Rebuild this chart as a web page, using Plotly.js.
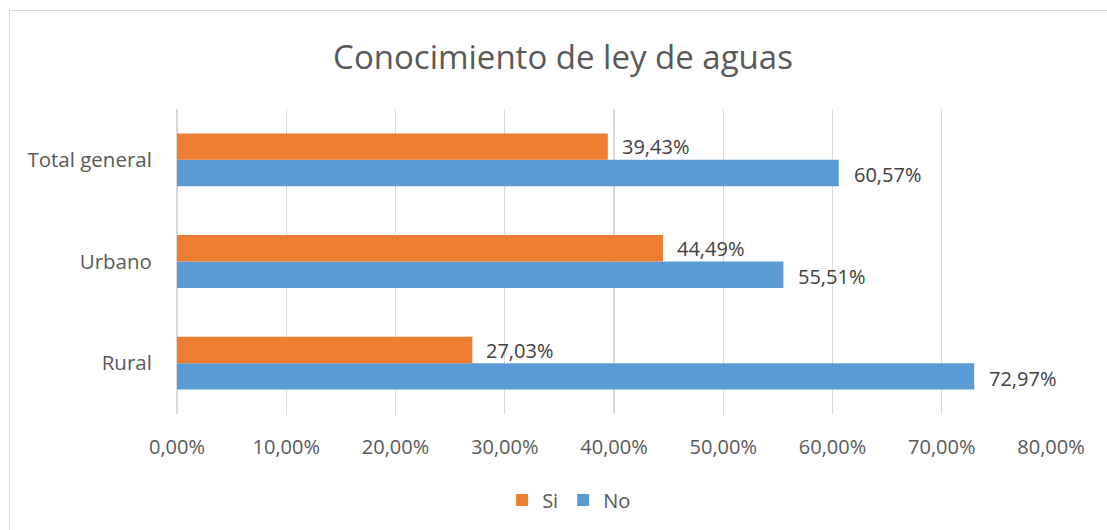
<!DOCTYPE html>
<html>
<head>
<meta charset="utf-8">
<script src="https://cdn.plot.ly/plotly-3.0.1.min.js"></script>
<style>
  html, body { margin: 0; padding: 0; background: #ffffff; }
  #wrap { position: relative; width: 1107px; height: 530px; overflow: hidden; }
  #chart { position: absolute; left: 0; top: 0; width: 1107px; height: 530px; }
  #frame { position: absolute; left: 9px; top: 10px; width: 1120px; height: 540px;
           border: 1.5px solid #d9d9d9; box-sizing: border-box; pointer-events: none; }
</style>
</head>
<body>
<div id="wrap">
  <div id="chart"></div>
  <div id="frame"></div>
</div>
<script>
const categories = ['Rural', 'Urbano', 'Total general'];
const siValues = [27.03, 44.49, 39.43];
const noValues = [72.97, 55.51, 60.57];
const seriesNames = ['Si', 'No'];
const chartTitle = 'Conocimiento de ley de aguas';

const FONT = '"Open Sans", sans-serif';
const orange = '#ED7D31';
const blue = '#5B9BD5';

function fmt(v) { return v.toFixed(2).replace('.', ',') + '%'; }

const traces = [
  { type: 'bar', orientation: 'h', name: seriesNames[1], y: categories, x: noValues,
    marker: { color: blue }, legendrank: 2, hoverinfo: 'x+y' },
  { type: 'bar', orientation: 'h', name: seriesNames[0], y: categories, x: siValues,
    marker: { color: orange }, legendrank: 1, hoverinfo: 'x+y' }
];

const annotations = [];
categories.forEach((c, i) => {
  annotations.push({ x: siValues[i], y: c, xref: 'x', yref: 'y', text: fmt(siValues[i]),
    showarrow: false, xanchor: 'left', yanchor: 'middle', xshift: 12, yshift: 13,
    font: { family: FONT, size: 20, color: '#404040' } });
  annotations.push({ x: noValues[i], y: c, xref: 'x', yref: 'y', text: fmt(noValues[i]),
    showarrow: false, xanchor: 'left', yanchor: 'middle', xshift: 13, yshift: -15,
    font: { family: FONT, size: 20, color: '#404040' } });
});

const layout = {
  width: 1107, height: 530,
  margin: { l: 177, r: 56, t: 109, b: 115 },
  paper_bgcolor: 'rgba(0,0,0,0)', plot_bgcolor: 'rgba(0,0,0,0)',
  separators: ',.',
  font: { family: FONT, size: 20, color: '#595959' },
  title: { text: chartTitle, x: 0.5086, xanchor: 'center', y: 0.892, yanchor: 'middle',
           font: { family: FONT, size: 33, color: '#595959' } },
  barmode: 'group', bargap: 0.48, bargroupgap: 0,
  xaxis: { range: [0, 80], dtick: 10, tick0: 0, tickformat: '.2f', ticksuffix: '%',
           showgrid: true, gridcolor: '#d9d9d9', gridwidth: 1.3,
           zeroline: true, zerolinecolor: '#d9d9d9', zerolinewidth: 1.3,
           showline: false, ticks: 'outside', ticklen: 15, tickcolor: 'rgba(0,0,0,0)',
           automargin: false,
           tickfont: { family: FONT, size: 20, color: '#595959' } },
  yaxis: { type: 'category', categoryorder: 'array', categoryarray: categories,
           showgrid: false, zeroline: false, showline: false, ticks: 'outside', ticklen: 20,
           tickcolor: 'rgba(0,0,0,0)', automargin: false,
           tickfont: { family: FONT, size: 20.5, color: '#595959' } },
  showlegend: true,
  legend: { orientation: 'h', x: 0.372, xanchor: 'left', y: -0.278, yanchor: 'middle',
            font: { family: FONT, size: 20, color: '#595959' }, traceorder: 'normal',
            itemwidth: 30, bgcolor: 'rgba(0,0,0,0)' },
  annotations: annotations
};

Plotly.newPlot('chart', traces, layout, { displayModeBar: false, staticPlot: true });
</script>
</body>
</html>
